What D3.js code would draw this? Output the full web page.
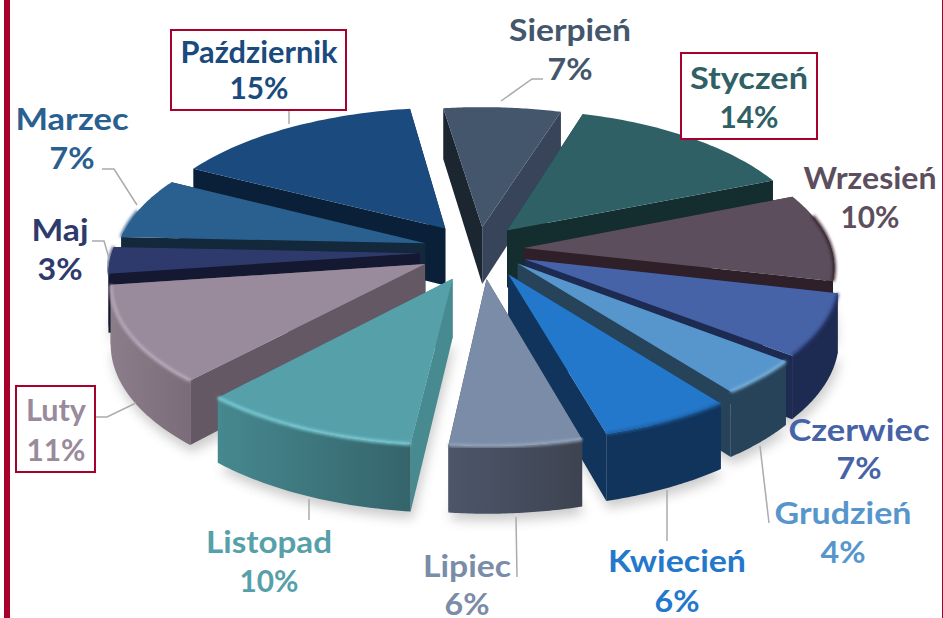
<!DOCTYPE html>
<html><head><meta charset="utf-8">
<script src="https://cdn.jsdelivr.net/npm/d3@7/dist/d3.min.js"></script>
<style>html,body{margin:0;padding:0;background:#fff;overflow:hidden}svg{display:block}</style>
</head><body><script>
const months=["Styczeń","Wrzesień","Czerwiec","Grudzień","Kwiecień","Lipiec","Listopad","Luty","Maj","Marzec","Październik","Sierpień"];
const shares=[14,10,7,4,6,6,10,11,3,7,15,7];
const topColors=["#2f6066","#5c4e5c","#4663a8","#5796cc","#2478cc","#7a8ca8","#56a0aa","#998a9c","#2e3a6c","#2a6090","#1a4a7e","#44566c"];
const wallA=["#142e30","#2e1f28","#1d2a52","#27435a","#10345c","#4d566a","#46888f","#8b7d8a","#141830","#14283c","#0a2038","#1c2630"];
const wallB=["#142e30","#2e1f28","#1d2a52","#27435a","#10345c","#3d4350","#35646b","#7a6d79","#141830","#14283c","#0a2038","#1c2630"];
const cutColors=["#142e30","#2e1f28","#1d2a52","#27435a","#10345c","#434a5a","#478a90","#645864","#141830","#14283c","#0a2038","#38445a"];
const rimColors=["#2f6066","#2e1f28","#2a3a70","#7db4dc","#1a5a9c","#9aa8be","#7fd0da","#bdaebf","#2e3a6c","#2a6090","#1a4a7e","#44566c"];
const textColors=topColors;
const labelAnchors={"Styczeń":[749,89,128],"Wrzesień":[870,189,228],"Czerwiec":[859,441,479],"Grudzień":[843,524,563],"Kwiecień":[677,572,612],"Lipiec":[467,577,615],"Listopad":[269,553,592],"Luty":[56,421,461],"Maj":[60,241,280],"Marzec":[72,130,169],"Październik":[259,63,99],"Sierpień":[570,41,80]};
const labelWidths=[118,133,141,137,138,88,126,60,57,113,157,122];
const leaders=[[[289,110],[289,124]],[[102,169],[114,169],[137,205]],[[92,241],[104,241],[109,258]],[[96,417],[107,417],[136,403]],[[309,499],[309,520]],[[516,517],[517,577]],[[667,490],[667,541]],[[760,446],[769,523]],[[501,101],[532,79],[543,79]],[[690,136],[693,138]]];
const boxes=[[171,30,175,80],[681,53,136,86],[16,386,79,86]];
const nudges=[[-3,-3],[-5,-2],[1,-4],[5,-7],[10,-1],[9,1],[3,3],[2,0],[3,0],[6,-2],[4,-3],[5,0]];

const W=943,H=618,cx=473,cy=252,R=308,k=0.455,f=2550,depth=58,explode=56,rot=17*Math.PI/180;
const svg=d3.select("body").append("svg").attr("width",W).attr("height",H);
const defs=svg.append("defs");
defs.append("filter").attr("id","soft").attr("x","-20%").attr("y","-20%").attr("width","140%").attr("height","140%").append("feGaussianBlur").attr("stdDeviation",6);
defs.append("filter").attr("id","rim").attr("x","-20%").attr("y","-20%").attr("width","140%").attr("height","140%").append("feGaussianBlur").attr("stdDeviation",1.6);

svg.append("rect").attr("width",W).attr("height",H).attr("fill","#fff");
svg.append("rect").attr("x",4).attr("y",0).attr("width",6).attr("height",H).attr("fill","#a8002c");
svg.append("rect").attr("x",942).attr("y",0).attr("width",1).attr("height",H).attr("fill","#a8002c");

const pie=d3.pie().sort(null).startAngle(rot).endAngle(rot+2*Math.PI);
const arcs=pie(shares).map((a,i)=>({...a,i,mid:(a.startAngle+a.endAngle)/2}));
const line=d3.line();
function proj(X,Z,h){const s=1/(1-Z/f);return [cx+X*s,cy+Z*k*s+h*s];}
function pt(a,rr,t,h){
  const ox=explode*Math.sin(a.mid),oz=-explode*Math.cos(a.mid);
  const p=proj(ox+rr*Math.sin(t),oz-rr*Math.cos(t),h);
  return [p[0]+nudges[a.i][0],p[1]+nudges[a.i][1]];
}
function angles(a){return d3.range(0,41).map(j=>a.startAngle+(a.endAngle-a.startAngle)*j/40);}
function rim(a,h){return angles(a).map(t=>pt(a,R,t,h));}
arcs.forEach(a=>{
  const g=defs.append("linearGradient").attr("id","w"+a.i);
  g.append("stop").attr("offset",0).attr("stop-color",wallA[a.i]);
  g.append("stop").attr("offset",1).attr("stop-color",wallB[a.i]);
});
const shadow=svg.append("g").attr("filter","url(#soft)").attr("opacity",.3).attr("transform","translate(2,7)");
arcs.filter(a=>Math.cos(a.mid)<0.3).forEach(a=>{
  shadow.append("path").attr("d",line([pt(a,0,a.mid,depth),...rim(a,depth)])+"Z").attr("fill","#555");
});
const order=arcs.slice().sort((p,q)=>Math.cos(q.mid)-Math.cos(p.mid));
order.forEach(a=>{
  const g=svg.append("g");
  const ap=pt(a,0,a.mid,0),apB=pt(a,0,a.mid,depth);
  const top=rim(a,0),bot=rim(a,depth);
  g.append("path").attr("d",line([ap,apB,bot[0],top[0]])+"Z").attr("fill",a.i===11?"#1c2630":cutColors[a.i]);
  g.append("path").attr("d",line([ap,apB,bot[40],top[40]])+"Z").attr("fill",cutColors[a.i]);
  const vis=angles(a).map((t,j)=>Math.cos(t)<0.1?j:-1).filter(j=>j>=0);
  if(vis.length>1){
    const t2=vis.map(j=>top[j]),b2=vis.map(j=>bot[j]).reverse();
    g.append("path").attr("d",line([...t2,...b2])+"Z").attr("fill",`url(#w${a.i})`);
  }
  g.append("path").attr("d",line([ap,...top])+"Z").attr("fill",topColors[a.i]);
  const vr=angles(a).map((t,j)=>Math.cos(t)<0.25?j:-1).filter(j=>j>=0).map(j=>top[j]);
  if(vr.length>1) g.append("path").attr("d",line(vr)).attr("fill","none").attr("stroke",rimColors[a.i]).attr("stroke-width",3).attr("filter","url(#rim)");
});
svg.append("g").selectAll("path").data(leaders).join("path").attr("d",d=>line(d)).attr("fill","none").attr("stroke","#ababab").attr("stroke-width",1.5);
svg.append("g").selectAll("rect").data(boxes).join("rect")
  .attr("x",d=>d[0]).attr("y",d=>d[1]).attr("width",d=>d[2]).attr("height",d=>d[3])
  .attr("fill","#fff").attr("stroke","#a8002c").attr("stroke-width",2);
const lab=svg.append("g").attr("font-family","Lato, sans-serif").attr("font-weight",700).attr("font-size",31).attr("text-anchor","middle");
months.forEach((m,i)=>{
  const [x,y1,y2]=labelAnchors[m];
  lab.append("text").attr("x",x).attr("y",y1).attr("fill",textColors[i]).attr("textLength",labelWidths[i]).attr("lengthAdjust","spacingAndGlyphs").text(m);
  const pctText=shares[i]+"%";
  lab.append("text").attr("x",x).attr("y",y2).attr("fill",textColors[i]).attr("textLength",pctText.length>2?59:45).attr("lengthAdjust","spacingAndGlyphs").text(pctText);
});
</script></body></html>
